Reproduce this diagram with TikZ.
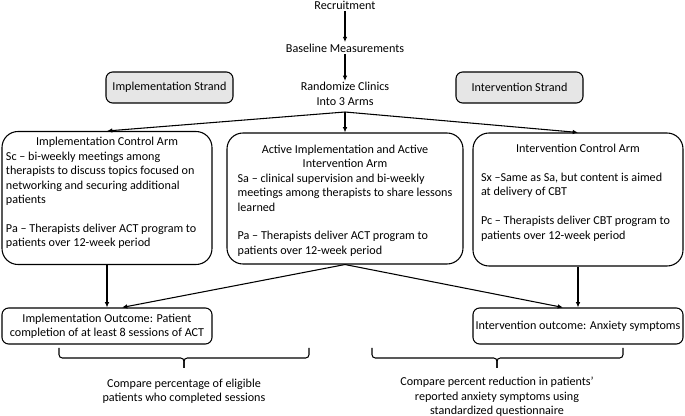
\documentclass[tikz,border=0pt]{standalone}
\usepackage{fontspec}
\setmainfont{Carlito}
\usetikzlibrary{arrows.meta}
\usetikzlibrary{calc}

\definecolor{strandgray}{RGB}{230,230,230}

\begin{document}
\begin{tikzpicture}[x=0.75pt,y=0.75pt,yscale=-1,xscale=1,
  every node/.style={font=\fontsize{9.1}{10.8}\selectfont},
  plain/.style={inner sep=1pt,align=center},
  strandbox/.style={draw,line width=0.8pt,rounded corners=5pt,fill=strandgray,minimum width=95.25pt,minimum height=23.25pt},
  armbox/.style={draw,line width=0.8pt,rounded corners=12pt,inner ysep=0pt},
  outbox/.style={draw,line width=0.8pt,rounded corners=5pt,inner sep=0pt,align=center,minimum width=157.5pt,minimum height=27pt},
  arr/.style={-{Latex[length=4pt,width=3.5pt]},line width=0.8pt},
  bracket/.style={line width=0.8pt,rounded corners=2.5pt}]
\path[use as bounding box] (0,0) rectangle (685,416);

% Top chain
\node[plain] (recr) at (345,5) {Recruitment};
\node[plain] (base) at (345,48) {Baseline Measurements};
\node[plain] (rand) at (345,94) {Randomize Clinics\\Into 3 Arms};
\coordinate (fork) at (345,112);

% Strands
\node[strandbox] (impstr) at (169.5,87.5) {Implementation Strand};
\node[strandbox] (intstr) at (519.5,87.5) {Intervention Strand};

% Arms
\node[armbox,inner xsep=3pt] (ctrl) at (107,198) {\parbox[c][99.75pt][t]{151.5pt}{\raggedright\vspace{4.5pt}%
{\centering Implementation Control Arm\par}%
Sc – bi-weekly meetings among\\therapists to discuss topics focused on\\networking and securing additional\\patients\par
\vspace{\baselineskip}%
Pa – Therapists deliver ACT program to\\patients over 12-week period}};
\node[armbox,inner xsep=8pt] (both) at (345,198.5) {\parbox[c][98.25pt][t]{161pt}{\raggedright\vspace{9pt}%
{\centering Active Implementation and Active\\Intervention Arm\par}%
Sa – clinical supervision and bi-weekly\\meetings among therapists to share lessons\\learned\par
\vspace{\baselineskip}%
Pa – Therapists deliver ACT program to\\patients over 12-week period}};
\node[armbox,inner xsep=6pt] (ictrl) at (578,199.5) {\parbox[c][99.75pt][t]{145.5pt}{\raggedright\vspace{8.5pt}%
{\centering Intervention Control Arm\par}%
\vspace{\baselineskip}%
Sx –Same as Sa, but content is aimed\\at delivery of CBT\par
\vspace{\baselineskip}%
Pc – Therapists deliver CBT program to\\patients over 12-week period}};

% Outcomes
\node[outbox] (impout) at (107,326) {Implementation Outcome: Patient\\completion of at least 8 sessions of ACT};
\node[outbox] (intout) at (578,326) {Intervention outcome: Anxiety symptoms};

% Comparisons
\node[plain] (cmpimp) at (184,391) {Compare percentage of eligible\\patients who completed sessions};
\node[plain] (cmpint) at (497,397) {Compare percent reduction in patients’\\reported anxiety symptoms using\\standardized questionnaire};

% Connectors
\draw[arr] (recr) -- (base);
\draw[arr] (base) -- (rand);
\draw[arr] (fork) -- (ctrl.north);
\draw[arr] (fork) -- (both.north);
\draw[arr] (fork) -- (ictrl.north);
\draw[arr] (ctrl.south) -- (impout.north);
\draw[arr] (ictrl.south) -- (intout.north);
\draw[arr] (both.south) -- ($(impout.north)+(15,0)$);
\draw[arr] (both.south) -- ($(intout.north)+(-15,0)$);

% Brackets
\draw[bracket] (59,348) -- (59,358) -- (184,358) -- (184,368);
\draw[bracket] (309,348) -- (309,358) -- (184,358) -- (184,368);
\draw[bracket] (372,348) -- (372,358) -- (497,358) -- (497,368);
\draw[bracket] (623,348) -- (623,358) -- (497,358) -- (497,368);

\end{tikzpicture}
\end{document}
